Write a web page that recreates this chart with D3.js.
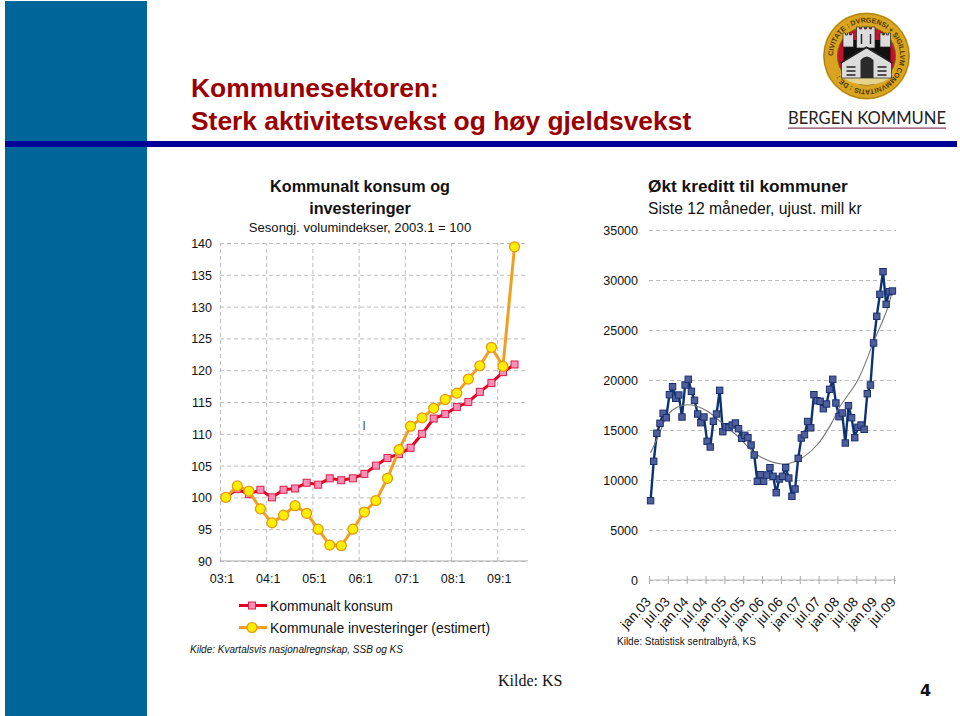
<!DOCTYPE html>
<html>
<head>
<meta charset="utf-8">
<script src="https://cdn.jsdelivr.net/npm/d3@7"></script>
<style>
body { margin: 0; background: #fff; }
text { font-family: "Liberation Sans", Arial, sans-serif; fill: #111; }
.grid line { stroke: #bdbdbd; stroke-dasharray: 4 3; }
.grid path { display: none; }
.tick text { font-size: 12.5px; }
</style>
</head>
<body>
<div id="chart"></div>
<script>
var width = 960, height = 716;

// kommunalt konsum og investeringer, kvartalsvis
var quarters = [
  "03:1","03:2","03:3","03:4","04:1","04:2","04:3","04:4","05:1","05:2","05:3","05:4",
  "06:1","06:2","06:3","06:4","07:1","07:2","07:3","07:4","08:1","08:2","08:3","08:4",
  "09:1","09:2","09:3"];
var yearTicks = ["03:1","04:1","05:1","06:1","07:1","08:1","09:1"];
var indexTicks = [90,95,100,105,110,115,120,125,130,135,140];
var konsum = [100,101.3,100.5,101.2,100,101.2,101.4,102.3,102,103,102.7,103,
  103.7,105,106.2,106.8,107.8,110,112.4,113.1,114.2,115,116.6,118,119.7,120.9];
var investeringer = [100,101.8,101,98.2,96,97.2,98.7,97.5,95,92.5,92.4,95,
  97.7,99.5,103,107.5,111.2,112.5,114,115.4,116.4,118.6,120.7,123.6,120.6,139.4];

// kreditt til kommuner, maanedlig
var monthTicks = ["jan.03","jul.03","jan.04","jul.04","jan.05","jul.05","jan.06",
  "jul.06","jan.07","jul.07","jan.08","jul.08","jan.09","jul.09"];
var kredittTicks = [0,5000,10000,15000,20000,25000,30000,35000];
var kreditt = [7930,11870,14670,15670,16670,16230,18530,19330,18170,18500,16300,19500,
  20070,18870,17970,16600,15730,16300,13870,13300,15870,16600,18970,14830,
  15330,15250,15500,15700,15130,14170,14470,14230,13500,12500,9870,10530,
  9870,10500,11230,10370,8730,10100,10370,11230,10200,8370,9100,12170,
  14200,14530,15850,15220,18530,17930,17870,17130,17600,19070,20070,17700,
  16330,16700,13700,17430,16230,14230,15270,15500,15070,18630,19500,23700,
  26370,28570,30830,27570,28830,28900];
var trendMonth = [0,3,5,7,10,13,18,22,28,34,42,47,53,58,60,66,71,75,77];
var trendValue = [12700,14800,16300,17000,17450,17500,16900,15900,14300,12500,11600,12000,
  13500,15900,17200,20000,23800,26800,28900];

var svg = d3.select("#chart").append("svg")
  .attr("width", width)
  .attr("height", height)
  .style("display", "block");

// slide background
svg.append("rect").attr("x", 5).attr("y", 1).attr("width", 142).attr("height", 715).attr("fill", "#006699");
svg.append("rect").attr("x", 5).attr("y", 141).attr("width", 952).attr("height", 6).attr("fill", "#000099");

svg.append("text").attr("x", 191).attr("y", 97)
  .style("font-size", "26.4px").style("font-weight", "bold").style("fill", "#990000")
  .text("Kommunesektoren:");
svg.append("text").attr("x", 191).attr("y", 130)
  .style("font-size", "26.4px").style("font-weight", "bold").style("fill", "#990000")
  .text("Sterk aktivitetsvekst og høy gjeldsvekst");

// logo
var logo = svg.append("g").attr("transform", "translate(866.5,56)");
logo.append("circle").attr("r", 43.5).attr("fill", "#d9a521");
logo.append("circle").attr("r", 42.5).attr("fill", "none").attr("stroke", "#8a6a10").attr("stroke-width", 0.7);
logo.append("circle").attr("r", 29).attr("fill", "#c8102e").attr("stroke", "#7a5a10");
logo.append("path").attr("id", "seal-ring").attr("fill", "none")
  .attr("d", "M-33.5,0A33.5,33.5 0 1 1 33.5,0A33.5,33.5 0 1 1 -33.5,0");
logo.append("text").style("font-size", "7px").style("font-weight", "bold").style("fill", "#4a3500")
  .append("textPath").attr("href", "#seal-ring")
  .text("CIVITATE : DVRGENSI + SIGILLVM COMMVNITATIS : DE :");
logo.append("path").attr("fill", "#e4d38a")
  .attr("d", "M-27,18Q0,12 27,18Q18,29 0,29Q-18,29 -27,18Z");
logo.append("path").attr("fill", "#111")
  .attr("d", "M-23,-16H24V6H-23Z");
logo.append("path").attr("fill", "#dcdcdc").attr("stroke", "#222").attr("stroke-width", 0.7)
  .attr("d", "M-23.5,-23h2.5v2h2v-2h2v2h2v-2h2v2v12h-10.5ZM13.5,-23h2.5v2h2v-2h2v2h2v-2h2v14h-10.5ZM-10,-29h3v2h2v-2h3v2h2v-2h3v2h2v-2h3.5v21h-18.5ZM-25,7L0,-8L25,7V22H-25Z");
logo.append("path").attr("fill", "#2a2a2a")
  .attr("d", "M-6,22V4Q0,-3 7,4V22Z");
logo.append("path").attr("fill", "none").attr("stroke", "#222").attr("stroke-width", 1.4)
  .attr("d", "M-26,7L0,-9L26,7M-20,11H-11M-20,15H-11M-20,19H-11M11,11H20M11,15H20M11,19H20M-5,-22V-12M4,-22V-12");

svg.append("text").attr("x", 788).attr("y", 124)
  .style("font-family", "Lato").style("font-size", "16.6px").style("fill", "#222")
  .text("BERGEN KOMMUNE");
svg.append("rect").attr("x", 788).attr("y", 127.5).attr("width", 158).attr("height", 1.2).attr("fill", "#80385a");

// left chart
var qStep = 11.55, left = 220, top0 = 243, bottom0 = 561, plotRight = 528;

var xEdge = d3.scalePoint().domain(quarters).range([left, left + qStep * (quarters.length - 1)]);
var yIndex = d3.scaleLinear().domain([90, 140]).range([bottom0, top0]);

svg.append("g").attr("class", "grid")
  .attr("transform", "translate(" + left + ",0)")
  .call(d3.axisLeft(yIndex).tickValues(indexTicks).tickSize(-(plotRight - left)).tickPadding(8))
  .call(function(g) { g.selectAll(".tick text").attr("dy", "0.36em"); });

svg.append("g").attr("class", "grid")
  .attr("transform", "translate(0," + bottom0 + ")")
  .call(d3.axisBottom(xEdge).tickValues(yearTicks).tickSize(-(bottom0 - top0)).tickPadding(13))
  .call(function(g) { g.selectAll(".tick text").attr("dx", 1.5); });

svg.append("line").attr("x1", left).attr("x2", plotRight).attr("y1", bottom0).attr("y2", bottom0).attr("stroke", "#aaa");

function qx(i) { return xEdge(quarters[i]) + qStep / 2; }

var lineIndex = d3.line()
  .x(function(d, i) { return qx(i); })
  .y(function(d) { return yIndex(d); });

svg.append("path").datum(konsum)
  .attr("fill", "none").attr("stroke", "#e60020").attr("stroke-width", 3).attr("d", lineIndex);
svg.selectAll(".konsum").data(konsum).enter().append("rect")
  .attr("class", "konsum")
  .attr("x", function(d, i) { return qx(i) - 3.5; })
  .attr("y", function(d) { return yIndex(d) - 3.5; })
  .attr("width", 7).attr("height", 7)
  .attr("fill", "#ff8fb4").attr("stroke", "#d8204a");

svg.append("path").datum(investeringer)
  .attr("fill", "none").attr("stroke", "#f0a020").attr("stroke-width", 3).attr("d", lineIndex);
svg.selectAll(".invest").data(investeringer).enter().append("circle")
  .attr("class", "invest")
  .attr("cx", function(d, i) { return qx(i); })
  .attr("cy", function(d) { return yIndex(d); })
  .attr("r", 5)
  .attr("fill", "#ffee00").attr("stroke", "#e8950f").attr("stroke-width", 1.2);

svg.append("text").attr("x", 364).attr("y", 430).style("font-size", "12px").style("fill", "#444").attr("text-anchor", "middle").text("l");

var leftTitle = svg.append("g").attr("text-anchor", "middle");
leftTitle.append("text").attr("x", 360).attr("y", 192).style("font-size", "16.2px").style("font-weight", "bold").text("Kommunalt konsum og");
leftTitle.append("text").attr("x", 360).attr("y", 214).style("font-size", "16.2px").style("font-weight", "bold").text("investeringer");
leftTitle.append("text").attr("x", 360).attr("y", 232).style("font-size", "13.1px").text("Sesongj. volumindekser, 2003.1 = 100");

// legend
var legend = svg.append("g");
legend.append("line").attr("x1", 239).attr("x2", 267).attr("y1", 605.5).attr("y2", 605.5).attr("stroke", "#e60020").attr("stroke-width", 3);
legend.append("rect").attr("x", 248.5).attr("y", 602).attr("width", 7).attr("height", 7).attr("fill", "#ff8fb4").attr("stroke", "#d8204a");
legend.append("line").attr("x1", 239).attr("x2", 267).attr("y1", 627.5).attr("y2", 627.5).attr("stroke", "#f0a020").attr("stroke-width", 3);
legend.append("circle").attr("cx", 252).attr("cy", 627.5).attr("r", 5).attr("fill", "#ffee00").attr("stroke", "#e8950f").attr("stroke-width", 1.2);
legend.append("text").attr("x", 270).attr("y", 611).style("font-size", "13.9px").text("Kommunalt konsum");
legend.append("text").attr("x", 270).attr("y", 633).style("font-size", "13.9px").text("Kommunale investeringer (estimert)");

svg.append("text").attr("x", 190).attr("y", 653).style("font-size", "10px").style("font-style", "italic")
  .text("Kilde: Kvartalsvis nasjonalregnskap, SSB og KS");

// right chart
var months = [];
["03","04","05","06","07","08","09"].forEach(function(y) {
  ["jan","feb","mar","apr","mai","jun","jul","aug","sep","okt","nov","des"].forEach(function(m) {
    months.push(m + "." + y);
  });
});
months = months.slice(0, 79);

var mx0 = 649, mx1 = 894;
var xMonth = d3.scalePoint().domain(months).range([mx0, mx1]);
var mStep = xMonth.step();
var yKreditt = d3.scaleLinear().domain([0, 35000]).range([580, 230]);

svg.append("g").attr("class", "grid")
  .attr("transform", "translate(" + mx0 + ",0)")
  .call(d3.axisLeft(yKreditt).tickValues(kredittTicks).tickFormat(d3.format("d")).tickSize(-(mx1 - mx0 + 2)).tickPadding(11))
  .call(function(g) { g.selectAll(".tick text").attr("dy", "0.36em"); });

svg.append("g")
  .attr("transform", "translate(0,580)")
  .call(d3.axisBottom(xMonth).tickValues(monthTicks).tickSize(0).tickPadding(10))
  .call(function(g) {
    g.select(".domain").remove();
    g.selectAll(".tick line").attr("y1", -4).attr("y2", 4).attr("stroke", "#aaa");
    g.selectAll(".tick text")
      .attr("text-anchor", "end")
      .attr("transform", "rotate(-47)")
      .attr("x", -15).attr("y", 17).attr("dy", 0)
      .style("font-size", "13.6px");
  });
svg.append("line").attr("x1", mx0).attr("x2", mx1).attr("y1", 580).attr("y2", 580).attr("stroke", "#b5b5b5");

function mx(i) { return xMonth(months[i]) + mStep / 2; }

svg.append("path").datum(kreditt)
  .attr("fill", "none").attr("stroke", "#0d3272").attr("stroke-width", 2.4)
  .attr("d", d3.line().x(function(d, i) { return mx(i); }).y(function(d) { return yKreditt(d); }));

svg.append("path").datum(trendMonth)
  .attr("fill", "none").attr("stroke", "#777").attr("stroke-width", 1.1)
  .attr("d", d3.line().curve(d3.curveCatmullRom)
    .x(function(d) { return mx(d); })
    .y(function(d, i) { return yKreditt(trendValue[i]); }));

svg.selectAll(".kreditt").data(kreditt).enter().append("rect")
  .attr("class", "kreditt")
  .attr("x", function(d, i) { return mx(i) - 3.2; })
  .attr("y", function(d) { return yKreditt(d) - 3.2; })
  .attr("width", 6.4).attr("height", 6.4)
  .attr("fill", "#4f5f9c").attr("stroke", "#1a2f70").attr("stroke-width", 1);

svg.append("text").attr("x", 648).attr("y", 192).style("font-size", "17.3px").style("font-weight", "bold").text("Økt kreditt til kommuner");
svg.append("text").attr("x", 648).attr("y", 214).style("font-size", "15.7px").text("Siste 12 måneder, ujust. mill kr");
svg.append("text").attr("x", 617).attr("y", 645).style("font-size", "10px").text("Kilde: Statistisk sentralbyrå, KS");

// footer
svg.append("text").attr("x", 498).attr("y", 686).style("font-family", "Liberation Serif").style("font-size", "16px").text("Kilde: KS");
svg.append("text").attr("x", 920).attr("y", 696).style("font-family", "DejaVu Sans").style("font-size", "16px").style("font-weight", "bold").text("4");
</script>
</body>
</html>
